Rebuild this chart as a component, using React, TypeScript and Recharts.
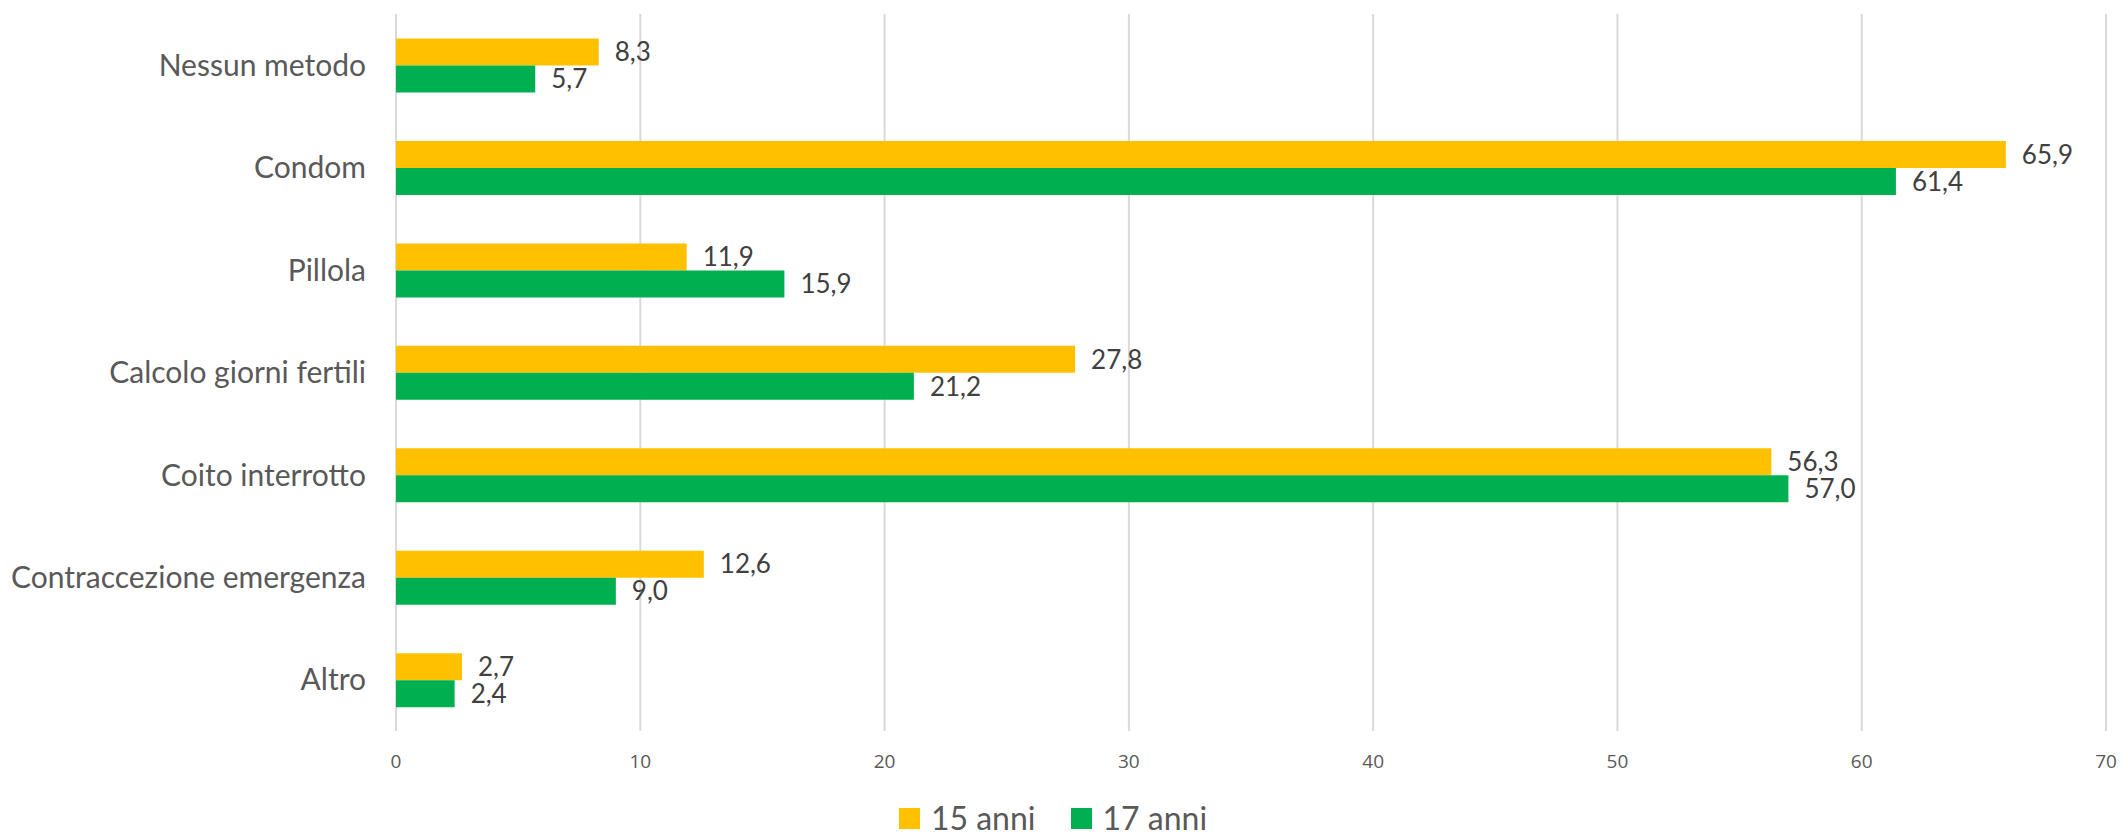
import React from 'react';
import { BarChart, Bar, XAxis, YAxis, CartesianGrid, Legend, LabelList } from 'recharts';

const METHODS = [
  'Nessun metodo',
  'Condom',
  'Pillola',
  'Calcolo giorni fertili',
  'Coito interrotto',
  'Contraccezione emergenza',
  'Altro',
];
const AGE_15 = [8.3, 65.9, 11.9, 27.8, 56.3, 12.6, 2.7];
const AGE_17 = [5.7, 61.4, 15.9, 21.2, 57.0, 9.0, 2.4];
const X_TICKS = [0, 10, 20, 30, 40, 50, 60, 70];

const YELLOW = '#FFC000';
const GREEN = '#00B050';
const FONT = 'Lato, "Open Sans", sans-serif';

const chartData = METHODS.map((name, i) => ({
  name,
  a15: AGE_15[i],
  a17: AGE_17[i],
}));

const fmt = (v: any) => Number(v).toFixed(1).replace('.', ',');

// legend drawn from the payload so spacing can match the original
const LegendContent = (props: any) => {
  const items = props.payload || [];
  return (
    <div
      style={{
        display: 'flex',
        justifyContent: 'center',
        alignItems: 'center',
        fontFamily: FONT,
        paddingTop: 5,
      }}
    >
      {items.map((it: any, i: number) => (
        <div key={i} style={{ display: 'flex', alignItems: 'center', marginLeft: i ? 35 : 0 }}>
          <span style={{ width: 21, height: 21, background: it.color, display: 'inline-block', marginRight: 11 }} />
          <span style={{ fontSize: 32, color: '#595959', lineHeight: '40px' }}>{it.value}</span>
        </div>
      ))}
    </div>
  );
};

export default function App() {
  return (
    <div style={{ position: 'absolute', left: 0, top: 0, background: '#fff' }}>
      <BarChart
        width={2123}
        height={838}
        data={chartData}
        layout="vertical"
        margin={{ top: 14, right: 17, bottom: 0, left: 0 }}
        barCategoryGap="24%"
        barGap={0}
      >
        <CartesianGrid horizontal={false} stroke="#d9d9d9" strokeWidth={2} />
        <XAxis
          type="number"
          domain={[0, 70]}
          ticks={X_TICKS}
          axisLine={false}
          tickLine={false}
          tickSize={0}
          tickMargin={24}
          height={62}
          tick={{ fontSize: 19, fill: '#595959', fontFamily: '"Open Sans", sans-serif' }}
        />
        <YAxis
          type="category"
          dataKey="name"
          width={396}
          axisLine={false}
          tickLine={false}
          tickSize={0}
          tickMargin={30}
          tick={{ fontSize: 30, fill: '#595959', fontFamily: FONT }}
        />
        <Legend verticalAlign="bottom" content={<LegendContent />} />
        <Bar dataKey="a15" name="15 anni" fill={YELLOW} isAnimationActive={false}>
          <LabelList
            dataKey="a15"
            position="right"
            offset={16}
            formatter={fmt}
            style={{ fontSize: 26, fill: '#404040', fontFamily: FONT }}
          />
        </Bar>
        <Bar dataKey="a17" name="17 anni" fill={GREEN} isAnimationActive={false}>
          <LabelList
            dataKey="a17"
            position="right"
            offset={16}
            formatter={fmt}
            style={{ fontSize: 26, fill: '#404040', fontFamily: FONT }}
          />
        </Bar>
      </BarChart>
    </div>
  );
}
